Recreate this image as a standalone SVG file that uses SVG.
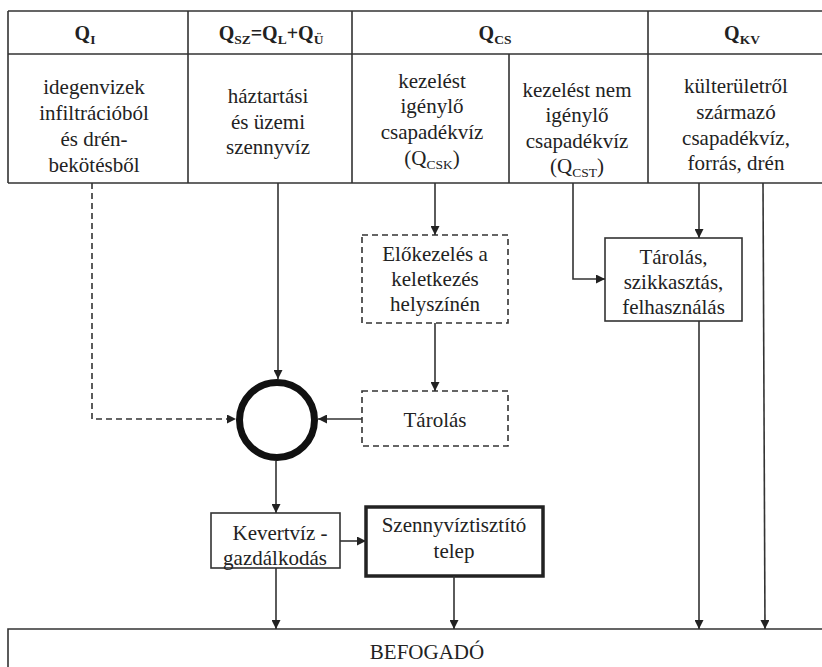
<svg xmlns="http://www.w3.org/2000/svg" width="822" height="667" viewBox="0 0 822 667">
  <style>
    text { font-family: "Liberation Serif", "Times New Roman", serif; font-size: 21px; fill: #222; text-anchor: middle; }
    .hd { font-weight: bold; font-size: 20px; }
    .sub { font-size: 13.5px; }
    .grid { stroke: #333; stroke-width: 1.6; fill: none; }
    .box { stroke: #333; stroke-width: 1.6; fill: #fff; }
    .dbox { stroke: #333; stroke-width: 1.6; fill: #fff; stroke-dasharray: 6 4; }
    .thick { stroke: #222; stroke-width: 3.5; fill: #fff; }
    .conn path { stroke: #333; stroke-width: 1.6; fill: none; marker-end: url(#arrow); }
    .conn path.dash { stroke-dasharray: 6 4; }
  </style>
  <defs>
    <marker id="arrow" markerUnits="userSpaceOnUse" markerWidth="10" markerHeight="9" refX="9" refY="4.5" orient="auto">
      <path d="M0,0 L9,4.5 L0,9 z" fill="#222"/>
    </marker>
  </defs>
  <rect width="822" height="667" fill="#fff"/>

  <!-- source table: flow categories and their descriptions -->
  <g id="table">
    <path class="grid" d="M8,11 H822 M8,54 H822 M8,183 H822 M8,11 V183 M188,11 V183 M352,11 V183 M509,54 V183 M648,11 V183"/>
    <text class="hd" x="85" y="40">Q<tspan class="sub" dy="4">I</tspan></text>
    <text class="hd" x="271" y="40">Q<tspan class="sub" dy="4">SZ</tspan><tspan dy="-4">=Q</tspan><tspan class="sub" dy="4">L</tspan><tspan dy="-4">+Q</tspan><tspan class="sub" dy="4">Ü</tspan></text>
    <text class="hd" x="495" y="40">Q<tspan class="sub" dy="4">CS</tspan></text>
    <text class="hd" x="742" y="40">Q<tspan class="sub" dy="4">KV</tspan></text>

    <text x="94" y="94">idegenvizek</text>
    <text x="94" y="120">infiltrációból</text>
    <text x="94" y="146">és drén-</text>
    <text x="94" y="172">bekötésből</text>

    <text x="268" y="103">háztartási</text>
    <text x="268" y="129">és üzemi</text>
    <text x="268" y="154">szennyvíz</text>

    <text x="432" y="88">kezelést</text>
    <text x="432" y="113">igénylő</text>
    <text x="432" y="139">csapadékvíz</text>
    <text x="432" y="165">(Q<tspan class="sub" dy="4">CSK</tspan><tspan dy="-4">)</tspan></text>

    <text x="577" y="97">kezelést nem</text>
    <text x="577" y="122">igénylő</text>
    <text x="577" y="148">csapadékvíz</text>
    <text x="577" y="173">(Q<tspan class="sub" dy="4">CST</tspan><tspan dy="-4">)</tspan></text>

    <text x="736" y="93">külterületről</text>
    <text x="736" y="119">származó</text>
    <text x="736" y="145">csapadékvíz,</text>
    <text x="736" y="170">forrás, drén</text>
  </g>

  <g id="elokezeles">
    <rect class="dbox" x="362" y="235" width="146" height="88"/>
    <text x="435" y="261">Előkezelés a</text>
    <text x="435" y="286">keletkezés</text>
    <text x="435" y="311">helyszínén</text>
  </g>

  <g id="tarolas">
    <rect class="dbox" x="362" y="391" width="146" height="55"/>
    <text x="435" y="427">Tárolás</text>
  </g>

  <g id="gyujto">
    <circle cx="277" cy="420" r="37.5" fill="#fff" stroke="#111" stroke-width="7"/>
  </g>

  <g id="tarolas-szikkasztas">
    <rect class="box" x="605" y="238" width="137" height="83"/>
    <text x="673.5" y="264">Tárolás,</text>
    <text x="673.5" y="289">szikkasztás,</text>
    <text x="673.5" y="314">felhasználás</text>
  </g>

  <g id="kevertviz">
    <rect class="box" x="211" y="513" width="129" height="55"/>
    <text x="280" y="540">Kevertvíz -</text>
    <text x="275" y="565">gazdálkodás</text>
  </g>

  <g id="szennyviztisztito">
    <rect class="thick" x="366" y="507" width="177" height="69"/>
    <text x="454" y="532">Szennyvíztisztító</text>
    <text x="454" y="558">telep</text>
  </g>

  <g id="befogado">
    <path class="grid" d="M8,667 V629 H822"/>
    <text x="427" y="659">BEFOGADÓ</text>
  </g>

  <g class="conn" id="connectors">
    <path class="dash" d="M92,183 V419 H236"/>
    <path d="M278,183 V379"/>
    <path d="M435,183 V235"/>
    <path d="M435,323 V391"/>
    <path d="M362,419 H318"/>
    <path d="M276,461 V513"/>
    <path d="M340,541 H366"/>
    <path d="M276,568 V629"/>
    <path d="M454,576 V629"/>
    <path d="M573,183 V279 H605"/>
    <path d="M699,183 V238"/>
    <path d="M699,321 V629"/>
    <path d="M763,183 L765,629"/>
  </g>
</svg>
